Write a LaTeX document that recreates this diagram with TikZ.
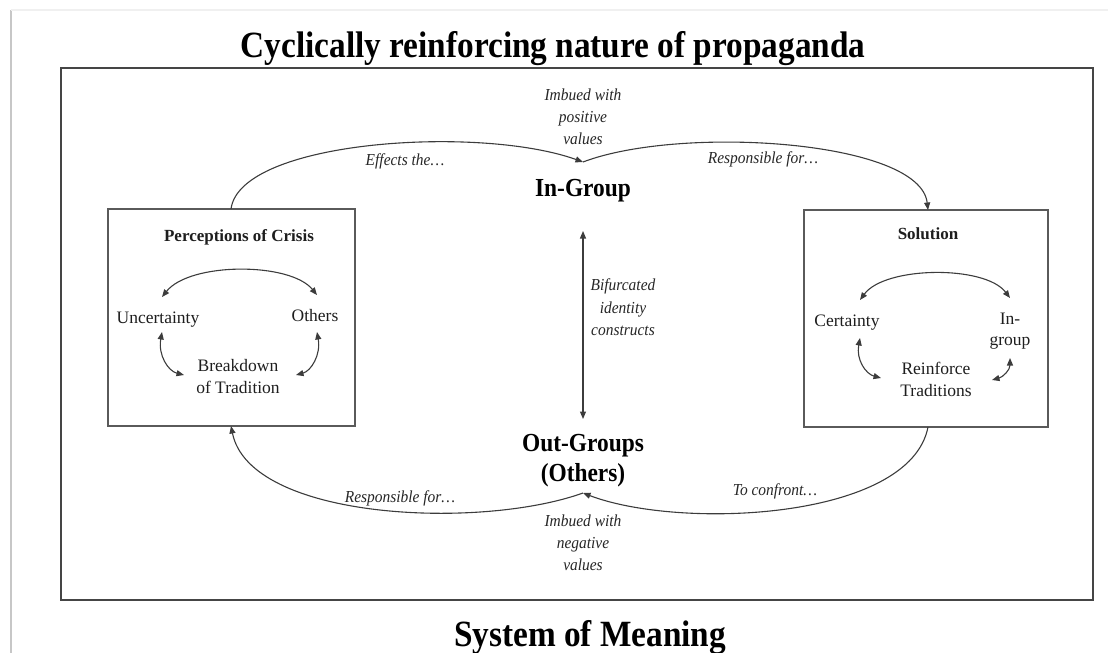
\documentclass[tikz,border=0pt]{standalone}
\usepackage{fontspec}
\setmainfont{Liberation Serif}
\newfontfamily\condfont[FakeStretch=0.9]{Liberation Serif}
\newfontfamily\labfont[FakeStretch=0.92]{Liberation Serif}
\usetikzlibrary{arrows.meta}
\definecolor{linec}{HTML}{3C3C3C}
\definecolor{framec}{HTML}{454545}
\definecolor{boxc}{HTML}{5A5A5A}
\definecolor{txtc}{HTML}{1E1E1E}
\begin{document}
\begin{tikzpicture}[x=1pt,y=-1pt,
  every node/.style={inner sep=0pt, outer sep=0pt, text=txtc},
  big/.style={anchor=base, font=\fontsize{37}{40}\condfont\bfseries, text=black},
  grp/.style={anchor=base, font=\fontsize{26}{28}\condfont\bfseries, text=black},
  lab/.style={anchor=base, font=\fontsize{16.8}{18}\labfont\itshape, text=black!85},
  inner/.style={anchor=base, font=\fontsize{17.5}{20}\selectfont},
  innerhead/.style={anchor=base, font=\fontsize{17}{20}\selectfont\bfseries},
  conn/.style={draw=linec, line width=1.1pt},
  tip/.style={-{Triangle[length=7.5pt,width=6pt]}},
  tips/.style={{Triangle[length=7.5pt,width=6pt]}-{Triangle[length=7.5pt,width=6pt]}},
  boxst/.style={draw=boxc, line width=1.4pt}]
\useasboundingbox (0,0) rectangle (1108,653);
% page shadow
\draw[black!22, line width=2.2pt] (11,10) -- (11,653);
\draw[black!6, line width=1.5pt] (11,10) -- (1108,10);
% frame
\draw[framec, line width=1.8pt] (61,68) rectangle (1093,600);
% titles
\node[big] (title) at (553,57) {Cyclically reinforcing nature of propaganda};
\node[big] (som) at (590,646) {System of Meaning};
% boxes
\draw[boxst] (108,209) rectangle (355,426);
\draw[boxst] (804,210) rectangle (1048,427);
\coordinate (lbtop) at (231,209);
\coordinate (lbbot) at (231,426);
\coordinate (rbtop) at (928,210);
\coordinate (rbbot) at (928,427);
% central nodes
\node[grp] (ingroup) at (583,196) {In-Group};
\node[grp] (outgroup) at (583,451) {Out-Groups};
\node[grp] (others) at (583,481) {(Others)};
\coordinate (inpt) at (583,162);
\coordinate (outpt) at (583,493);
\coordinate (vtop) at (583,231);
\coordinate (vbot) at (583,419);
% labels
\node[lab] (imbp1) at (583,100) {Imbued with};
\node[lab] (imbp2) at (583,122) {positive};
\node[lab] (imbp3) at (583,144) {values};
\node[lab] (eff) at (405,165) {Effects the…};
\node[lab] (resp1) at (763,163) {Responsible for…};
\node[lab] (bif1) at (623,290) {Bifurcated};
\node[lab] (bif2) at (623,313) {identity};
\node[lab] (bif3) at (623,335) {constructs};
\node[lab] (resp2) at (400,502) {Responsible for…};
\node[lab] (conf) at (775,495) {To confront…};
\node[lab] (imbn1) at (583,526) {Imbued with};
\node[lab] (imbn2) at (583,548) {negative};
\node[lab] (imbn3) at (583,570) {values};
% main connectors
\draw[conn, tip] (lbtop) .. controls (240,140) and (480,125) .. (inpt);
\draw[conn, tip] (inpt) .. controls (680,125) and (920,140) .. (rbtop);
\draw[conn, tip] (rbbot) .. controls (910,520) and (680,530) .. (outpt);
\draw[conn, tip] (outpt) .. controls (480,530) and (250,520) .. (lbbot);
\draw[conn, tips] (vtop) -- (vbot);
% left box content
\node[innerhead] (poc) at (239,241) {Perceptions of Crisis};
\node[inner] (unc) at (158,323) {Uncertainty};
\node[inner] (oth) at (315,321) {Others};
\node[inner] (brk1) at (238,371) {Breakdown};
\node[inner] (brk2) at (238,393) {of Tradition};
\coordinate (l1) at (162,297); \coordinate (l2) at (317,295);
\coordinate (l3) at (162,332); \coordinate (l4) at (184,375);
\coordinate (l5) at (317,332); \coordinate (l6) at (296,375);
\draw[conn, tips] (l1) .. controls (190,262) and (290,262) .. (l2);
\draw[conn, tips] (l3) .. controls (158,355) and (168,371) .. (l4);
\draw[conn, tips] (l5) .. controls (321,355) and (311,371) .. (l6);
% right box content
\node[innerhead] (sol) at (928,239) {Solution};
\node[inner] (cer) at (847,326) {Certainty};
\node[inner] (ing1) at (1010,324) {In-};
\node[inner] (ing2) at (1010,345) {group};
\node[inner] (rt1) at (936,374) {Reinforce};
\node[inner] (rt2) at (936,396) {Traditions};
\coordinate (r1) at (860,300); \coordinate (r2) at (1010,298);
\coordinate (r3) at (860,338); \coordinate (r4) at (881,378);
\coordinate (r5) at (1010,358); \coordinate (r6) at (992,380);
\draw[conn, tips] (r1) .. controls (885,266) and (985,265) .. (r2);
\draw[conn, tips] (r3) .. controls (856,360) and (866,374) .. (r4);
\draw[conn, tips] (r5) .. controls (1010,370) and (1003,377) .. (r6);
\end{tikzpicture}
\end{document}
